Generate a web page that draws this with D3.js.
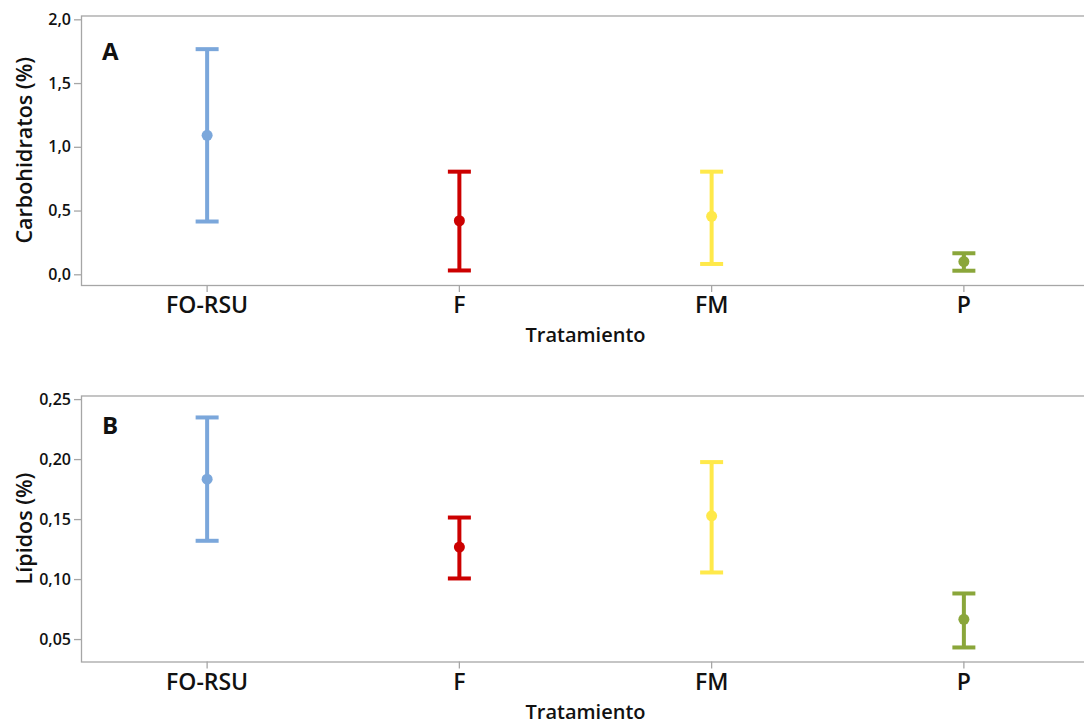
<!DOCTYPE html>
<html>
<head>
<meta charset="utf-8">
<script src="https://cdn.jsdelivr.net/npm/d3@7"></script>
<style>
    body { margin: 0; background: #fff; }
    svg text { font-family: "Open Sans", "Noto Sans", sans-serif; fill: #111; }
</style>
</head>
<body>
<script>
// treatments and their colours
const categories = ['FO-RSU', 'F', 'FM', 'P'];
const colors = ['#7ba7db', '#cc0000', '#ffe94a', '#8aa63a'];

// panel A: carbohydrates (%), mean with interval
const carbMean = [1.09, 0.42, 0.455, 0.10];
const carbLow = [0.414, 0.03, 0.081, 0.028];
const carbHigh = [1.766, 0.805, 0.805, 0.165];
const carbTicks = [0, 0.5, 1.0, 1.5, 2.0];

// panel B: lipids (%), mean with interval
const lipMean = [0.1833, 0.1267, 0.1527, 0.0665];
const lipLow = [0.1319, 0.1005, 0.1055, 0.043];
const lipHigh = [0.2347, 0.1513, 0.1975, 0.088];
const lipTicks = [0.05, 0.10, 0.15, 0.20, 0.25];

const svgWidth = 1084;
const svgHeight = 726;

const svg = d3.select('body')
    .append('svg')
    .attr('width', svgWidth)
    .attr('height', svgHeight);

const locale = d3.formatLocale({decimal: ',', thousands: '.', grouping: [3], currency: ['', '']});

const left = 81;
const right = 1090;

/*
 * Draws one interval panel.
 */
function drawPanel(opts)
{
    const {top, bottom, domain, ticks, fmt, mean, low, high, letter, letterY, yTitle} = opts;
    const g = svg.append('g');

    const x = d3.scaleBand()
        .domain(categories)
        .range([left, right]);

    const y = d3.scaleLinear()
        .domain(domain)
        .range([bottom, top]);

    // frame
    g.append('rect')
        .attr('x', left + 0.5)
        .attr('y', top + 0.5)
        .attr('width', right - left)
        .attr('height', bottom - top)
        .attr('fill', 'none')
        .attr('stroke', '#a6a6a6')
        .attr('stroke-width', 1.3);

    // y axis
    const yAxis = g.append('g')
        .attr('transform', `translate(${left},0)`)
        .call(d3.axisLeft(y).tickValues(ticks).tickFormat(locale.format(fmt)).tickSize(7).tickPadding(3));
    yAxis.select('.domain').remove();
    yAxis.selectAll('line').attr('stroke', '#a6a6a6').attr('stroke-width', 1.3);
    yAxis.selectAll('text').style('font-size', '16px').style('font-weight', 600).attr('fill', '#111');

    // x axis
    const xAxis = g.append('g')
        .attr('transform', `translate(0,${bottom})`)
        .call(d3.axisBottom(x).tickSize(7).tickPadding(5));
    xAxis.select('.domain').remove();
    xAxis.selectAll('line').attr('stroke', '#a6a6a6').attr('stroke-width', 1.3);
    xAxis.selectAll('text').style('font-size', '23px').style('font-weight', 600).attr('fill', '#111');

    // axis titles
    g.append('text')
        .attr('x', (left + right) / 2)
        .attr('y', bottom + 57)
        .attr('text-anchor', 'middle')
        .style('font-size', '20px')
        .style('font-weight', 600)
        .text('Tratamiento');

    g.append('text')
        .attr('transform', `translate(32,${(top + bottom) / 2}) rotate(-90)`)
        .attr('text-anchor', 'middle')
        .style('font-size', '21.5px')
        .style('font-weight', 600)
        .text(yTitle);

    // panel letter
    g.append('text')
        .attr('x', left + 21)
        .attr('y', letterY)
        .style('font-size', '24px')
        .style('font-weight', 700)
        .text(letter);

    const cx = d => x(d) + x.bandwidth() / 2;
    const capHalf = 11.5;

    const items = g.selectAll('.interval')
        .data(categories)
        .enter()
        .append('g')
        .attr('class', 'interval');

    items.append('line')
        .attr('x1', cx).attr('x2', cx)
        .attr('y1', (d, i) => y(low[i]))
        .attr('y2', (d, i) => y(high[i]))
        .attr('stroke', (d, i) => colors[i])
        .attr('stroke-width', 4);

    items.append('line')
        .attr('x1', d => cx(d) - capHalf).attr('x2', d => cx(d) + capHalf)
        .attr('y1', (d, i) => y(high[i])).attr('y2', (d, i) => y(high[i]))
        .attr('stroke', (d, i) => colors[i])
        .attr('stroke-width', 4);

    items.append('line')
        .attr('x1', d => cx(d) - capHalf).attr('x2', d => cx(d) + capHalf)
        .attr('y1', (d, i) => y(low[i])).attr('y2', (d, i) => y(low[i]))
        .attr('stroke', (d, i) => colors[i])
        .attr('stroke-width', 4);

    items.append('circle')
        .attr('cx', cx)
        .attr('cy', (d, i) => y(mean[i]))
        .attr('r', 5.5)
        .attr('fill', (d, i) => colors[i]);
}

drawPanel({
    top: 15.5, bottom: 285, domain: [-0.084, 2.03], ticks: carbTicks, fmt: '.1f',
    mean: carbMean, low: carbLow, high: carbHigh, letter: 'A', letterY: 60, yTitle: 'Carbohidratos (%)'
});

drawPanel({
    top: 395.5, bottom: 661.5, domain: [0.0313, 0.253], ticks: lipTicks, fmt: '.2f',
    mean: lipMean, low: lipLow, high: lipHigh, letter: 'B', letterY: 434, yTitle: 'Lípidos (%)'
});
</script>
</body>
</html>
